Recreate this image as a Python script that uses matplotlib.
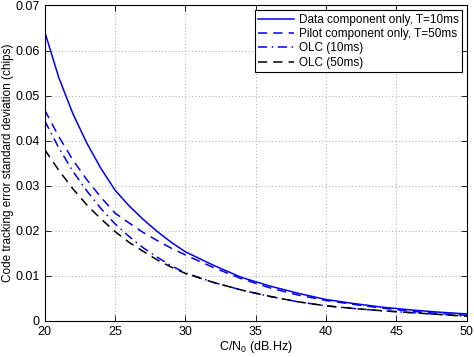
import numpy as np
import matplotlib
matplotlib.use('Agg')
import matplotlib.pyplot as plt

plt.rcParams['font.family'] = ['Liberation Sans', 'DejaVu Sans']
plt.rcParams['mathtext.default'] = 'regular'

# C/N0 grid (dB.Hz): 1 dB steps up to 30, then 2 dB steps
cn0 = [20, 21, 22, 23, 24, 25, 26, 27, 28, 29, 30,
       32, 34, 36, 38, 40, 42, 44, 46, 48, 50]

data_10ms = [0.0642, 0.0540, 0.0460, 0.0394, 0.0338, 0.0290, 0.0255, 0.0225, 0.0198, 0.0174, 0.0153,
             0.0123, 0.0096, 0.0077, 0.0061, 0.0047, 0.0038, 0.0030, 0.0024, 0.0019, 0.0015]
pilot_50ms = [0.0468, 0.0409, 0.0357, 0.0313, 0.0274, 0.0239, 0.0217, 0.0196, 0.0178, 0.0161, 0.0146,
              0.0118, 0.0093, 0.0073, 0.0057, 0.0045, 0.0036, 0.0028, 0.0021, 0.0016, 0.0012]
olc_10ms = [0.0444, 0.0384, 0.0332, 0.0288, 0.0249, 0.0215, 0.0187, 0.0162, 0.0141, 0.0122, 0.0106,
            0.0085, 0.0068, 0.0054, 0.0042, 0.0033, 0.0027, 0.0022, 0.0018, 0.0014, 0.0010]
olc_50ms = [0.0380, 0.0334, 0.0293, 0.0257, 0.0226, 0.0198, 0.0174, 0.0154, 0.0135, 0.0119, 0.0105,
            0.0085, 0.0068, 0.0054, 0.0042, 0.0033, 0.0027, 0.0022, 0.0018, 0.0014, 0.0010]

fig = plt.figure(figsize=(4.74, 3.57), dpi=100)
ax = fig.add_axes([0.0943, 0.1017, 0.8903, 0.8829])

blue = '#0000ee'
ax.plot(cn0, data_10ms, '-', color=blue, lw=1.1, label='Data component only, T=10ms')
ax.plot(cn0, pilot_50ms, color=blue, lw=1.1, dashes=(6, 4),
        label='Pilot component only, T=50ms')
ax.plot(cn0, olc_10ms, color=blue, lw=1.1, dashes=(6, 3, 1, 3), label='OLC (10ms)')
ax.plot(cn0, olc_50ms, color='black', lw=1.1, dashes=(6, 4), label='OLC (50ms)')

ax.set_xlim(20, 50)
ax.set_ylim(0, 0.07)
ax.set_xticks(np.arange(20, 51, 5))
ax.set_yticks(np.arange(0, 0.071, 0.01))
ax.set_yticklabels(['0', '0.01', '0.02', '0.03', '0.04', '0.05', '0.06', '0.07'])
ax.tick_params(direction='in', top=True, right=True, labelsize=9, length=4, width=0.6)
ax.grid(True, linestyle=(0, (1, 3)), color='#888888', lw=0.6)
for s in ax.spines.values():
    s.set_linewidth(0.8)

ax.set_xlabel('C/N$_0$ (dB.Hz)', fontsize=9, labelpad=1)
ax.set_ylabel('Code tracking error standard deviation (chips)', fontsize=8.5, labelpad=1)

leg = ax.legend(loc='upper right', fontsize=8.5, handlelength=3, fancybox=False,
                framealpha=1, edgecolor='black', borderpad=0.3, labelspacing=0.2,
                handletextpad=0.4, borderaxespad=0.4)
leg.get_frame().set_linewidth(0.8)

fig.savefig('out.png', dpi=100)
